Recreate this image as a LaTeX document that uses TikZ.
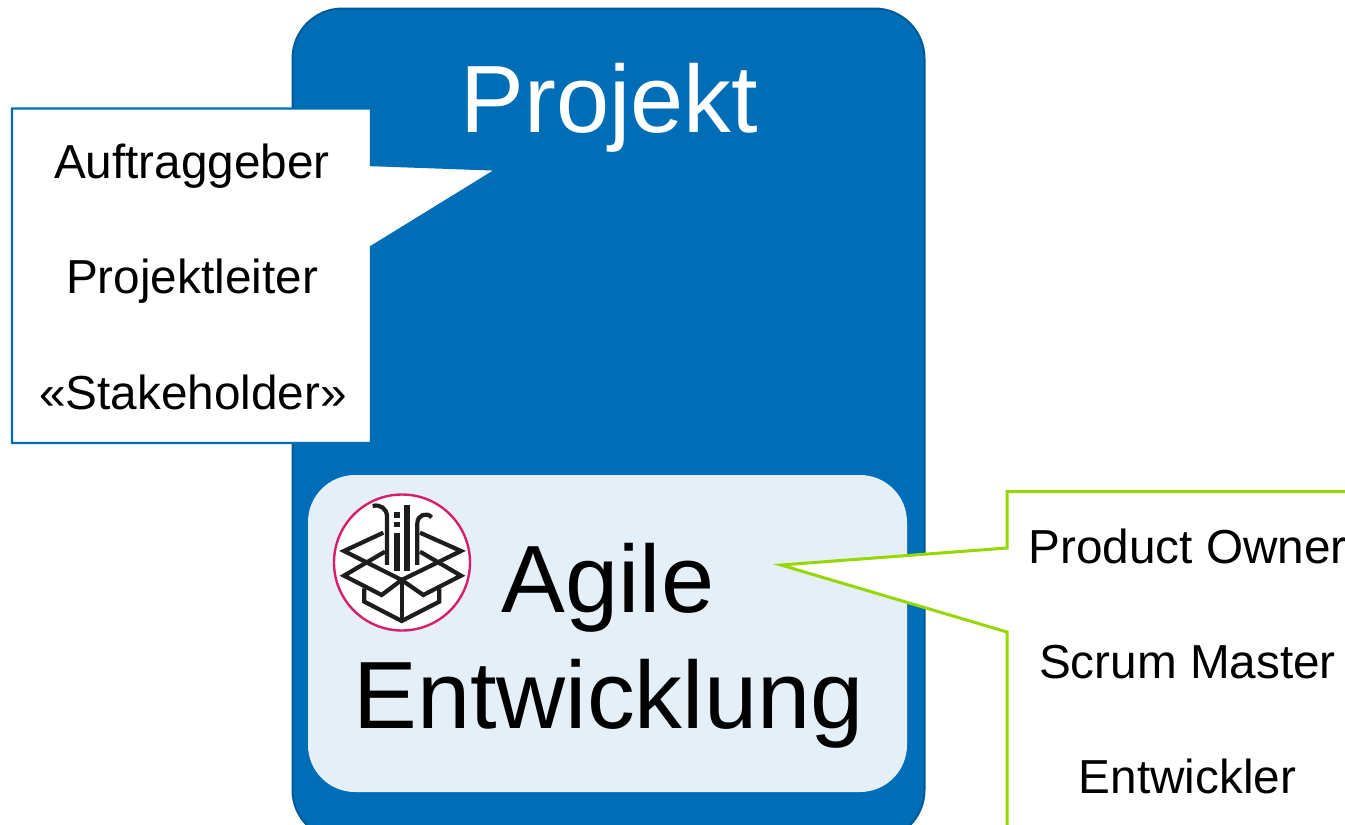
\documentclass[tikz,border=0pt]{standalone}
\usepackage{fontspec}
\setmainfont{Liberation Sans}
\definecolor{pblue}{RGB}{0,109,183}
\definecolor{pedge}{RGB}{0,90,150}
\definecolor{pinner}{RGB}{228,239,247}
\definecolor{pgreen}{RGB}{151,215,0}
\definecolor{ppink}{RGB}{214,30,110}
\definecolor{pink2}{RGB}{29,29,27}
\tikzset{
  big/.style={anchor=base,inner sep=0pt,font=\fontsize{95.6}{96}\selectfont},
  small/.style={anchor=base,inner sep=0pt,font=\fontsize{47.7}{48}\selectfont,text=black},
  iconline/.style={draw=pink2,line width=4.2pt,line join=miter,line cap=butt},
  iconfill/.style={fill=pink2,draw=none}
}
\begin{document}
\begin{tikzpicture}[x=1pt,y=-1pt]
\useasboundingbox (0,0) rectangle (1345,825);
\clip (0,0) rectangle (1345,825);
\fill[white] (0,0) rectangle (1345,825);
% Project box
\draw[fill=pblue,draw=pedge,line width=2pt,rounded corners=50pt] (292.5,8.5) rectangle (924.5,840);
% Inner box
\fill[pinner,rounded corners=47pt] (308,475) rectangle (907,792);
% left callout
\draw[fill=white,draw=pblue,line width=2.4pt,line join=miter]
  (12,108.5) -- (371,108.5) -- (371,165) -- (497,169.5) -- (371,247) -- (371,443) -- (12,443) -- cycle;
% right callout
\draw[fill=white,draw=pgreen,line width=3pt,line join=miter]
  (1360,491.5) -- (1007,491.5) -- (1007,548) -- (781,565) -- (1007,632) -- (1007,840) -- (1360,840);
% texts
\node[big,text=white] (projekt) at (609.5,132) {Projekt};
\node[big,text=black] (agile) at (608,612) {Agile};
\node[big,text=black] (entw) at (608.5,728) {Entwicklung};
\node[small] (a1) at (192,178) {Auftraggeber};
\node[small] (a2) at (192,293) {Projektleiter};
\node[small] (a3) at (193,409) {«Stakeholder»};
\node[small] (b1) at (1187.5,563) {Product Owner};
\node[small] (b2) at (1187.5,678) {Scrum Master};
\node[small] (b3) at (1187.5,793) {Entwickler};
% icon
\node[circle,draw=ppink,fill=white,line width=2.4pt,minimum size=136pt,inner sep=0pt] (icon) at (402,562.5) {};
\begin{scope}[shift={(320,480)},x=0.3333pt,y=-0.3333pt]
  \draw[iconline] (190,158) -- (72,213) -- (245,300) -- (423,213) -- (300,158);
  \draw[iconline] (195,215) -- (72,287) -- (185,345) -- (245,300) -- (310,345) -- (423,287) -- (300,215);
  \draw[iconline] (133,325) -- (133,365) -- (245,423) -- (358,365) -- (358,325);
  \draw[iconline] (245,300) -- (245,423);
  \draw[iconline] (201,255) -- (201,110) .. controls (201,85) and (180,72) .. (158,78);
  \draw[iconline] (292,255) -- (292,130) .. controls (292,105) and (320,95) .. (335,112);
  \fill[iconfill] (222,160) rectangle (240,272);
  \fill[iconfill] (252,75) rectangle (270,272);
  \fill[iconfill] (222,97) rectangle (240,113);
  \fill[iconfill] (222,126) rectangle (240,142);
\end{scope}
\end{tikzpicture}
\end{document}
